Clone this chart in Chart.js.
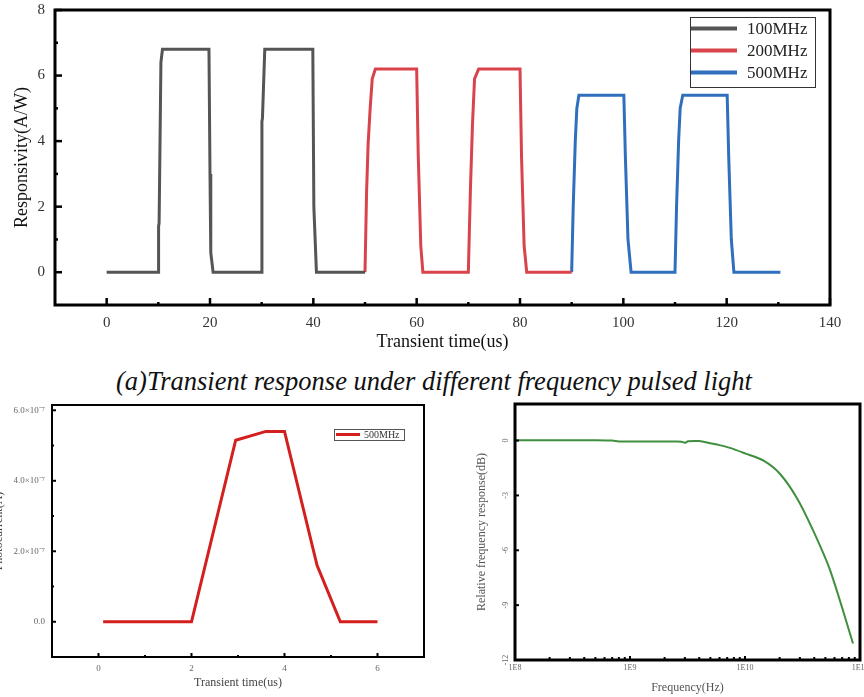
<!DOCTYPE html>
<html><head><meta charset="utf-8">
<script src="https://cdn.jsdelivr.net/npm/chart.js@4.4.0/dist/chart.umd.min.js"></script>
<style>
body{margin:0;background:#fff;width:864px;height:697px;overflow:hidden;position:relative}
canvas{position:absolute}
#cap{position:absolute;left:0;top:366px;width:864px;text-align:center;font:italic 26.5px 'Liberation Serif',serif;color:#111;line-height:30px;padding-left:2px}
</style></head><body>
<canvas id="c1" width="864" height="360" style="left:0;top:0"></canvas>
<div id="cap">(a)Transient response under different frequency pulsed light</div>
<canvas id="c2" width="440" height="302" style="left:-8px;top:395px"></canvas>
<canvas id="c3" width="432" height="302" style="left:432px;top:395px"></canvas>
<script>
// ---------- (a) transient response ----------
const seriesLabels = ['100MHz', '200MHz', '500MHz'];
const t100 = [0, 9.95, 10.05, 10.15, 10.5, 10.8, 19.8, 20.0, 20.15, 20.6, 29.95, 30.05, 30.15, 30.6, 39.9, 40.1, 40.25, 40.6, 50];
const r100 = [0, 0, 1.4, 1.5, 6.4, 6.8, 6.8, 3.0, 0.6, 0, 0, 4.6, 4.7, 6.8, 6.8, 2.0, 1.4, 0, 0];
const t200 = [50, 50.3, 50.6, 51.0, 51.4, 52.0, 60.0, 60.3, 60.8, 61.2, 70.0, 70.4, 70.8, 71.2, 72.0, 80.0, 80.3, 80.8, 81.3, 90];
const r200 = [0, 2.4, 3.9, 5.0, 5.9, 6.2, 6.2, 3.6, 0.8, 0, 0, 2.5, 4.5, 5.9, 6.2, 6.2, 3.5, 0.8, 0, 0];
const t500 = [90, 90.3, 90.7, 91.0, 91.4, 100.1, 100.4, 100.9, 101.5, 110.0, 110.3, 110.7, 111.0, 111.5, 120.1, 120.4, 120.9, 121.4, 130.4];
const r500 = [0, 2.0, 4.0, 5.0, 5.4, 5.4, 3.5, 1.0, 0, 0, 2.0, 4.0, 5.0, 5.4, 5.4, 3.5, 1.0, 0, 0];
const aXTicks = [0, 20, 40, 60, 80, 100, 120, 140];
const aXMinor = [10, 30, 50, 70, 90, 110, 130];
const aYTicks = [0, 2, 4, 6, 8];
const aYMinor = [1, 3, 5, 7];

// ---------- photocurrent 500MHz ----------
const pcLabel = '500MHz';
const pcTime = [0.1, 2.0, 2.95, 3.6, 4.0, 4.7, 5.2, 6.0];
const pcCurrent = [0, 0, 5.15e-7, 5.4e-7, 5.4e-7, 1.6e-7, 0, 0];
const pcXTicks = [0, 2, 4, 6];
const pcXMinor = [1, 3, 5];
const pcYTicks = [0, 2e-7, 4e-7, 6e-7];
const pcYTickLabels = ['0.0', '2.0×10⁻⁷', '4.0×10⁻⁷', '6.0×10⁻⁷'];
const pcYMinor = [1e-7, 3e-7, 5e-7];

// ---------- relative frequency response ----------
const freqHz = [1e8, 3e8, 5e8, 7e8, 8e8, 1.5e9, 2.5e9, 2.8e9, 3.0e9, 3.2e9, 4e9, 5e9, 6e9, 7.4e9, 1e10, 1.45e10, 2e10, 2.8e10, 3.9e10, 5.5e10, 8.7e10];
const respDb = [0.02, 0.02, 0.02, 0.0, -0.05, -0.05, -0.05, -0.06, -0.12, -0.04, -0.03, -0.15, -0.25, -0.4, -0.7, -1.1, -1.8, -3.1, -4.9, -7.1, -11.1];
const frXTicks = [1e8, 1e9, 1e10, 1e11];
const frXTickLabels = ['1E8', '1E9', '1E10', '1E11'];
const frXMinor = [2e8,3e8,4e8,5e8,6e8,7e8,8e8,9e8,2e9,3e9,4e9,5e9,6e9,7e9,8e9,9e9,2e10,3e10,4e10,5e10,6e10,7e10,8e10,9e10];
const frYTicks = [0, -3, -6, -9, -12];

Chart.defaults.animation = false;
Chart.defaults.font.family = "'Liberation Serif', serif";

const frameTicks = {
  id: 'frameTicks',
  afterDatasetsDraw(chart, args, o) {
    const {ctx, chartArea: a} = chart;
    const xs = chart.scales.x, ys = chart.scales.y;
    ctx.save();
    ctx.strokeStyle = '#000';
    ctx.lineCap = 'butt';
    const seg = (x1, y1, x2, y2, w) => { ctx.lineWidth = w; ctx.beginPath(); ctx.moveTo(x1, y1); ctx.lineTo(x2, y2); ctx.stroke(); };
    (o.xMajor || []).forEach(v => { const p = xs.getPixelForValue(v); seg(p, a.bottom, p, a.bottom - o.majorLen, o.tickW); });
    (o.xMinor || []).forEach(v => { const p = xs.getPixelForValue(v); seg(p, a.bottom, p, a.bottom - o.minorLen, o.tickW); });
    (o.yMajor || []).forEach(v => { const p = ys.getPixelForValue(v); seg(a.left, p, a.left + o.majorLen, p, o.tickW); });
    (o.yMinor || []).forEach(v => { const p = ys.getPixelForValue(v); seg(a.left, p, a.left + o.minorLen, p, o.tickW); });
    ctx.lineWidth = o.frame;
    ctx.strokeRect(a.left, a.top, a.width, a.height);
    ctx.restore();
  }
};

const boxLegend = {
  id: 'boxLegend',
  afterDraw(chart, args, o) {
    const ctx = chart.ctx;
    ctx.save();
    ctx.fillStyle = '#fff';
    ctx.fillRect(o.x, o.y, o.w, o.h);
    ctx.lineWidth = 1; ctx.strokeStyle = o.borderColor;
    ctx.strokeRect(o.x + 0.5, o.y + 0.5, o.w, o.h);
    ctx.font = o.font; ctx.textBaseline = 'middle'; ctx.textAlign = 'left';
    chart.data.datasets.forEach((ds, i) => {
      const cy = o.y + o.firstRow + i * o.rowH;
      ctx.strokeStyle = ds.borderColor; ctx.lineWidth = o.lineW;
      ctx.beginPath(); ctx.moveTo(o.x + o.lineX0, cy); ctx.lineTo(o.x + o.lineX1, cy); ctx.stroke();
      ctx.fillStyle = o.textColor;
      ctx.fillText(ds.label, o.x + o.textX, cy + 1);
    });
    ctx.restore();
  }
};

const pts = (xs, ys) => xs.map((x, i) => ({x, y: ys[i]}));
const fixTicks = arr => scale => { scale.ticks = arr.map(v => ({value: v})); };
const noGrid = {display: false, drawTicks: false, tickLength: 0};
const fitH = h => s => { s.height = h; s.paddingLeft = 0; s.paddingRight = 0; };
const fitW = w => s => { s.width = w; s.paddingTop = 0; s.paddingBottom = 0; };

// Chart (a)
new Chart(document.getElementById('c1'), {
  type: 'line',
  data: {
    datasets: [
      {label: seriesLabels[0], data: pts(t100, r100), borderColor: '#555555', borderWidth: 3, pointRadius: 0, tension: 0},
      {label: seriesLabels[1], data: pts(t200, r200), borderColor: '#d9434b', borderWidth: 3, pointRadius: 0, tension: 0},
      {label: seriesLabels[2], data: pts(t500, r500), borderColor: '#2f6fbd', borderWidth: 3, pointRadius: 0, tension: 0}
    ]
  },
  options: {
    responsive: false, devicePixelRatio: 1,
    layout: {padding: {top: 10, right: 34, left: 0, bottom: 0}},
    plugins: {
      legend: {display: false}, tooltip: {enabled: false},
      frameTicks: {frame: 3, xMajor: aXTicks, xMinor: aXMinor, yMajor: aYTicks, yMinor: aYMinor, majorLen: 7, minorLen: 3, tickW: 2.5},
      boxLegend: {x: 690, y: 17, w: 125, h: 70, firstRow: 11.5, rowH: 22, lineX0: 1, lineX1: 47, lineW: 4, textX: 57,
                  font: "17px 'Liberation Serif'", textColor: '#222', borderColor: '#333'}
    },
    scales: {
      x: {type: 'linear', min: -10, max: 140,
          afterBuildTicks: fixTicks(aXTicks), afterFit: fitH(55),
          grid: noGrid, border: {display: false},
          ticks: {font: {size: 15}, color: '#333', padding: 9, maxRotation: 0},
          title: {display: true, text: 'Transient time(us)', font: {size: 18}, color: '#111', padding: {top: 0, bottom: 7}}},
      y: {min: -1, max: 8,
          afterBuildTicks: fixTicks(aYTicks), afterFit: fitW(55),
          grid: noGrid, border: {display: false},
          ticks: {font: {size: 15}, color: '#333', padding: 10},
          title: {display: true, text: 'Responsivity(A/W)', font: {size: 18}, color: '#111', padding: {top: 11, bottom: 0}}}
    }
  },
  plugins: [frameTicks, boxLegend]
});

// Photocurrent chart
new Chart(document.getElementById('c2'), {
  type: 'line',
  data: {datasets: [{label: pcLabel, data: pts(pcTime, pcCurrent), borderColor: '#d41f1f', borderWidth: 3, pointRadius: 0, tension: 0}]},
  options: {
    responsive: false, devicePixelRatio: 1,
    layout: {padding: {top: 10, right: 8, left: 0, bottom: 0}},
    plugins: {
      legend: {display: false}, tooltip: {enabled: false},
      frameTicks: {frame: 2, xMajor: pcXTicks, xMinor: pcXMinor, yMajor: pcYTicks, yMinor: pcYMinor, majorLen: 4, minorLen: 2, tickW: 2},
      boxLegend: {x: 342, y: 34, w: 70, h: 11, firstRow: 5.5, rowH: 12, lineX0: 2, lineX1: 26, lineW: 3, textX: 30,
                  font: "10px 'Liberation Serif'", textColor: '#333', borderColor: '#555'}
    },
    scales: {
      x: {type: 'linear', min: -1, max: 7,
          afterBuildTicks: fixTicks(pcXTicks), afterFit: fitH(40),
          grid: noGrid, border: {display: false},
          ticks: {font: {size: 9}, color: '#666', padding: 6, maxRotation: 0},
          title: {display: true, text: 'Transient time(us)', font: {size: 12}, color: '#444', padding: {top: 0, bottom: 7}}},
      y: {min: -1e-7, max: 6.15e-7,
          afterBuildTicks: fixTicks(pcYTicks), afterFit: fitW(60),
          grid: noGrid, border: {display: false},
          ticks: {font: {size: 9}, color: '#666', padding: 7, callback: (v) => pcYTickLabels[pcYTicks.findIndex(t => Math.abs(t - v) < 1e-12)]},
          title: {display: true, text: 'Photocurrent(A)', font: {size: 12}, color: '#444', padding: {top: 0, bottom: 0}}}
    }
  },
  plugins: [frameTicks, boxLegend]
});

// Frequency response chart
new Chart(document.getElementById('c3'), {
  type: 'line',
  data: {datasets: [{label: 'response', data: pts(freqHz, respDb), borderColor: '#3f8f3f', borderWidth: 2, pointRadius: 0, tension: 0.3}]},
  options: {
    responsive: false, devicePixelRatio: 1,
    layout: {padding: {top: 9, right: 4, left: 0, bottom: 0}},
    plugins: {
      legend: {display: false}, tooltip: {enabled: false},
      frameTicks: {frame: 3, xMajor: frXTicks, xMinor: frXMinor, yMajor: frYTicks, yMinor: [], majorLen: 4, minorLen: 3, tickW: 2}
    },
    scales: {
      x: {type: 'logarithmic', min: 1e8, max: 1e11,
          afterBuildTicks: fixTicks(frXTicks), afterFit: fitH(37),
          grid: noGrid, border: {display: false},
          ticks: {font: {size: 8}, color: '#666', padding: 3, maxRotation: 0, autoSkip: false,
                  callback: (v) => frXTickLabels[frXTicks.indexOf(v)]},
          title: {display: true, text: 'Frequency(Hz)', font: {size: 12}, color: '#555', padding: {top: 0, bottom: 2}}},
      y: {min: -12, max: 2,
          afterBuildTicks: fixTicks(frYTicks), afterFit: fitW(83),
          grid: noGrid, border: {display: false},
          ticks: {font: {size: 8}, color: '#666', padding: 4, minRotation: 90, maxRotation: 90, crossAlign: 'center'},
          title: {display: true, text: 'Relative frequency response(dB)', font: {size: 12}, color: '#555', padding: {top: 43, bottom: 0}}}
    }
  },
  plugins: [frameTicks]
});
</script>
</body></html>
